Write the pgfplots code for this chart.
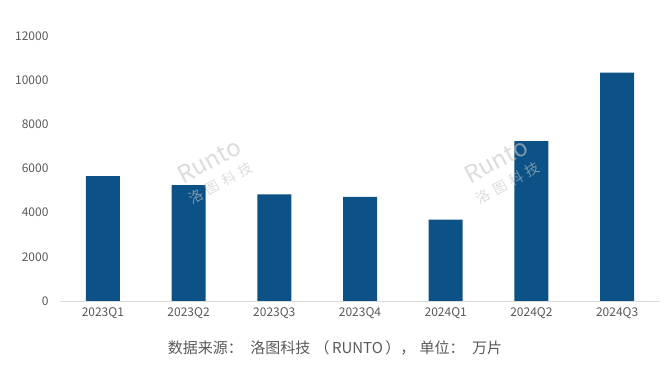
\documentclass[border=0pt]{standalone}
\usepackage{pgfplots}
\pgfplotsset{compat=1.18}
\usepackage{fontspec}
\setmainfont{Noto Sans CJK SC}
\definecolor{barblue}{RGB}{12,82,134}
\definecolor{txtgray}{RGB}{89,89,89}
\begin{document}
\begin{tikzpicture}[x=1pt,y=1pt]
\path[use as bounding box] (0,0) rectangle (669,364);
\begin{axis}[
  at={(60pt,63pt)}, anchor=south west,
  scale only axis, width=600pt, height=265pt,
  xmin=-0.5, xmax=6.5, ymin=0, ymax=12000,
  ytick={0,2000,...,12000},
  xtick={0,...,6},
  xticklabels={2023Q1,2023Q2,2023Q3,2023Q4,2024Q1,2024Q2,2024Q3},
  axis y line*=left, axis x line*=bottom,
  y axis line style={draw=none},
  x axis line style={draw=black!15, -},
  major tick length=0pt,
  scaled y ticks=false,
  /pgf/number format/fixed,
  /pgf/number format/1000 sep={},
  /pgf/number format/assume math mode=true,
  ticklabel style={font=\fontsize{12}{14}\selectfont, text=txtgray},
  xticklabel style={yshift=-3pt},
  yticklabel style={xshift=-8pt},
  clip=false,
]
\addplot[ybar, bar width=34pt, fill=barblue, draw=none] coordinates {
 (0,5650) (1,5250) (2,4825) (3,4720) (4,3690) (5,7240) (6,10340)
};
\pgfplotsextra{
 \node[text=txtgray!35, opacity=0.6, rotate=28, align=center, font=\fontsize{24}{26}\selectfont\itshape] at (axis cs:1.3,5900) {Runto\\[-4pt]{\fontsize{14}{16}\selectfont 洛\,\,图\,\,科\,\,技}};
 \node[text=txtgray!35, opacity=0.6, rotate=28, align=center, font=\fontsize{24}{26}\selectfont\itshape] at (axis cs:4.65,5900) {Runto\\[-4pt]{\fontsize{14}{16}\selectfont 洛\,\,图\,\,科\,\,技}};
}
\end{axis}
\node[text=txtgray, font=\fontsize{15}{17}\selectfont] at (335,16) {数据来源：\enspace 洛图科技\;（\,RUNTO\,），\;单位：\enspace 万片};
\end{tikzpicture}
\end{document}
